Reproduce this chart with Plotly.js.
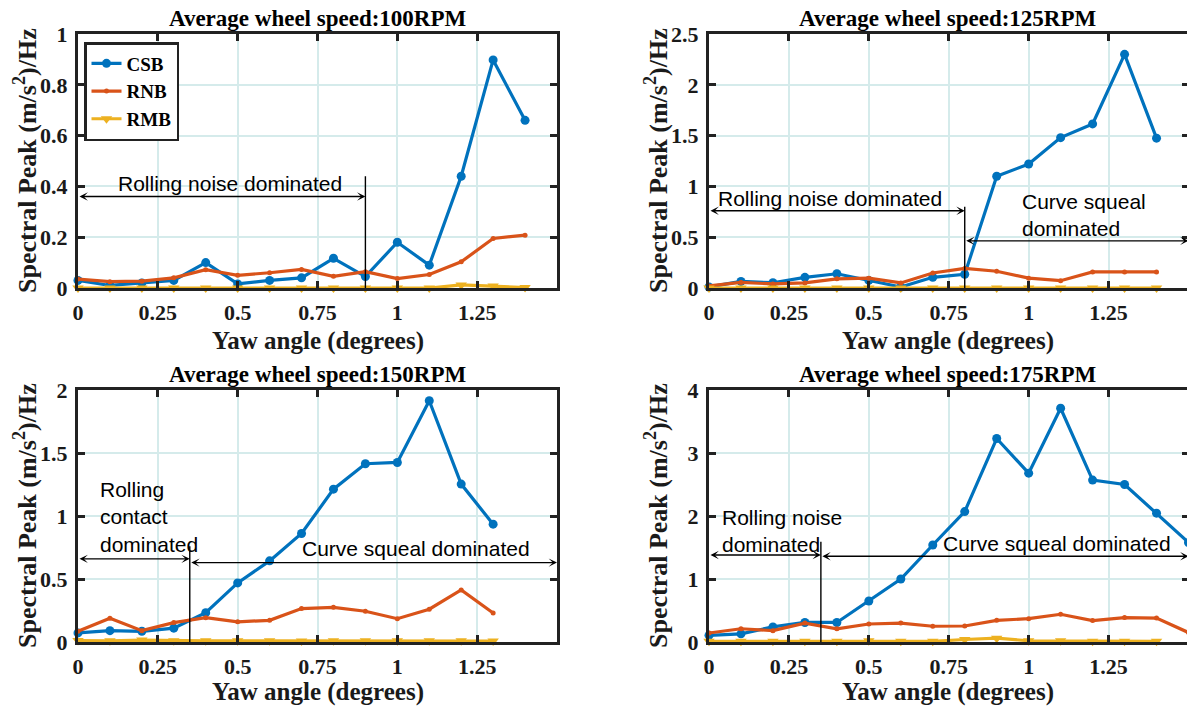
<!DOCTYPE html>
<html>
<head>
<meta charset="utf-8">
<script src="https://cdn.plot.ly/plotly-3.0.1.min.js"></script>
<style>
html,body{margin:0;padding:0;overflow:hidden;background:#fff;}
#chart{width:1192px;height:709px;}
</style>
</head>
<body>
<div id="chart"></div>
<script>
// ---------- data ----------
const yaw14 = [0,0.1,0.2,0.3,0.4,0.5,0.6,0.7,0.8,0.9,1.0,1.1,1.2,1.3,1.4];
const yaw13 = [0,0.1,0.2,0.3,0.4,0.5,0.6,0.7,0.8,0.9,1.0,1.1,1.2,1.3];
const yaw15 = [0,0.1,0.2,0.3,0.4,0.5,0.6,0.7,0.8,0.9,1.0,1.1,1.2,1.3,1.4,1.5];

// 100 RPM
const csb100 = [0.03,0.01,0.02,0.03,0.10,0.016,0.03,0.04,0.117,0.045,0.18,0.09,0.44,0.898,0.66];
const rnb100 = [0.035,0.025,0.027,0.04,0.072,0.05,0.06,0.073,0.046,0.064,0.037,0.053,0.103,0.195,0.208];
const rmb100 = [0,0,0,0,0,0,0,0,0,0,0,0,0.012,0.008,0.002];
// 125 RPM
const csb125 = [0.01,0.065,0.052,0.105,0.14,0.075,0.01,0.105,0.135,1.10,1.22,1.48,1.615,2.30,1.475];
const rnb125 = [0.02,0.055,0.04,0.05,0.09,0.097,0.05,0.148,0.193,0.165,0.097,0.072,0.158,0.158,0.158];
const rmb125 = [0,0,0,0,0,0,0,0,0,0,0,0,0,0,0];
// 150 RPM
const csb150 = [0.072,0.09,0.085,0.11,0.233,0.469,0.644,0.861,1.213,1.415,1.425,1.915,1.253,0.935];
const rnb150 = [0.085,0.188,0.09,0.154,0.193,0.16,0.172,0.265,0.275,0.244,0.185,0.26,0.413,0.23];
const rmb150 = [0.012,0.01,0.015,0.01,0.01,0.01,0.01,0.008,0.01,0.01,0.01,0.01,0.01,0.008];
// 175 RPM
const csb175 = [0.106,0.13,0.24,0.31,0.31,0.65,1.0,1.54,2.07,3.23,2.68,3.71,2.57,2.50,2.045,1.58];
const rnb175 = [0.143,0.21,0.18,0.30,0.21,0.286,0.30,0.25,0.254,0.344,0.37,0.44,0.34,0.387,0.38,0.15];
const rmb175 = [0.01,0.01,0.01,0.01,0.01,0.02,0.01,0.01,0.04,0.06,0.02,0.02,0.01,0.01,0.01];

const seriesNames = ['CSB','RNB','RMB'];
const panelTitles = ['Average wheel speed:100RPM','Average wheel speed:125RPM','Average wheel speed:150RPM','Average wheel speed:175RPM'];
const xTickVals = [0,0.25,0.5,0.75,1,1.25];
const xTickText = ['0','0.25','0.5','0.75','1','1.25'];
const yRanges = [[0,1],[0,2.5],[0,2],[0,4]];
const yDticks = [0.2,0.5,0.5,1];
const xTitleText = 'Yaw angle (degrees)';
const yTitleText = 'Spectral Peak (m/s<sup>2</sup>)/Hz';

// ---------- styling ----------
const C_BLUE = '#0072BD', C_RED = '#D95319', C_YEL = '#EDB120';
const SERIF = 'Liberation Serif';
const SANS = 'Liberation Sans, Arial, sans-serif';
const INK = '#1a1a1a';
const W = 1192, H = 709;

const panels = [
  {x: yaw14, csb: csb100, rnb: rnb100, rmbx: yaw14, rmb: rmb100},
  {x: yaw14, csb: csb125, rnb: rnb125, rmbx: yaw14, rmb: rmb125},
  {x: yaw13, csb: csb150, rnb: rnb150, rmbx: yaw13, rmb: rmb150},
  {x: yaw15, csb: csb175, rnb: rnb175, rmbx: yaw14, rmb: rmb175}
];

// pixel boxes of the four plot areas (xt = x-title centre offset below the axis)
const boxes = [
  {l:78, r:557, t:34, b:288, xt:53},
  {l:709, r:1188.5, t:34, b:288, xt:53},
  {l:78, r:557, t:390, b:642, xt:50},
  {l:709, r:1188.5, t:390, b:642, xt:50}
];

const traces = [];
panels.forEach((p, i) => {
  const xa = i === 0 ? 'x' : 'x' + (i + 1);
  const ya = i === 0 ? 'y' : 'y' + (i + 1);
  traces.push({x: p.x, y: p.csb, xaxis: xa, yaxis: ya, name: seriesNames[0], legendgroup: 'csb',
    showlegend: i === 0, mode: 'lines+markers', cliponaxis: false,
    line: {color: C_BLUE, width: 3.2}, marker: {symbol: 'circle', size: 9, color: C_BLUE}});
  traces.push({x: p.x, y: p.rnb, xaxis: xa, yaxis: ya, name: seriesNames[1], legendgroup: 'rnb',
    showlegend: i === 0, mode: 'lines+markers', cliponaxis: false,
    line: {color: C_RED, width: 3.2}, marker: {symbol: 'circle', size: 5, color: C_RED}});
  traces.push({x: p.rmbx, y: p.rmb, xaxis: xa, yaxis: ya, name: seriesNames[2], legendgroup: 'rmb',
    showlegend: i === 0, mode: 'lines+markers', cliponaxis: false,
    line: {color: C_YEL, width: 3.2}, marker: {symbol: 'triangle-down', size: 10, color: C_YEL}});
});

const layout = {
  width: W, height: H,
  margin: {l: 0, r: 0, t: 0, b: 0, pad: 0},
  paper_bgcolor: '#fff', plot_bgcolor: '#fff',
  showlegend: true,
  legend: {x: 84 / W, y: 1 - 42 / H, xanchor: 'left', yanchor: 'top',
    bgcolor: '#fff', bordercolor: '#222', borderwidth: 2.5,
    font: {family: SERIF, size: 19, color: '#000', weight: 'bold'},
    itemwidth: 30, tracegroupgap: 0},
  annotations: [], shapes: []
};

boxes.forEach((b, i) => {
  const sx = i === 0 ? '' : String(i + 1);
  const xa = {
    domain: [b.l / W, b.r / W], range: [0, 1.5], anchor: 'y' + sx,
    tickvals: xTickVals, ticktext: xTickText,
    showline: true, linecolor: '#222', linewidth: 3, mirror: 'ticks',
    ticks: 'inside', ticklen: 7, tickwidth: 3, tickcolor: '#222',
    showgrid: true, gridcolor: '#d5ebeb', gridwidth: 2, zeroline: false,
    tickfont: {family: SERIF, size: 22, color: INK, weight: 'bold'},
    ticklabelstandoff: 3, fixedrange: true
  };
  const ya = {
    domain: [1 - b.b / H, 1 - b.t / H], range: yRanges[i], dtick: yDticks[i], tick0: 0,
    anchor: 'x' + sx,
    showline: true, linecolor: '#222', linewidth: 3, mirror: 'ticks',
    ticks: 'inside', ticklen: 7, tickwidth: 3, tickcolor: '#222',
    showgrid: true, gridcolor: '#d5ebeb', gridwidth: 2, zeroline: false,
    tickfont: {family: SERIF, size: 22, color: INK, weight: 'bold'},
    ticklabelstandoff: 3, fixedrange: true
  };
  layout['xaxis' + sx] = xa;
  layout['yaxis' + sx] = ya;

  const cx = ((b.l + Math.min(b.r, 1186)) / 2) / W;
  // subplot title
  layout.annotations.push({text: panelTitles[i], xref: 'paper', yref: 'paper',
    x: cx, y: 1 - (b.t - 15) / H, xanchor: 'center', yanchor: 'middle',
    showarrow: false, font: {family: SERIF, size: 23, color: '#000', weight: 'bold'}});
  // x axis title
  layout.annotations.push({text: xTitleText, xref: 'paper', yref: 'paper',
    x: cx, y: 1 - (b.b + b.xt) / H, xanchor: 'center', yanchor: 'middle',
    showarrow: false, font: {family: SERIF, size: 25, color: INK, weight: 'bold'}});
  // y axis title
  layout.annotations.push({text: yTitleText, xref: 'paper', yref: 'paper',
    x: (b.l - 53) / W, y: 1 - ((b.t + b.b) / 2) / H, xanchor: 'center', yanchor: 'middle',
    textangle: -90, showarrow: false,
    font: {family: SERIF, size: 26, color: INK, weight: 'bold'}});
});

// region annotations (data coordinates)
const regionTexts = [
  {p: 0, text: 'Rolling noise dominated', x: 0.476, y: 0.413, anchor: 'center'},
  {p: 1, text: 'Rolling noise dominated', x: 0.38, y: 0.877, anchor: 'center'},
  {p: 1, text: 'Curve squeal<br>dominated', x: 0.974, y: 0.72, anchor: 'left'},
  {p: 2, text: 'Rolling<br>contact<br>dominated', x: 0.062, y: 0.99, anchor: 'left'},
  {p: 2, text: 'Curve squeal dominated', x: 1.06, y: 0.74, anchor: 'center'},
  {p: 3, text: 'Rolling noise<br>dominated', x: 0.035, y: 1.76, anchor: 'left'},
  {p: 3, text: 'Curve squeal dominated', x: 1.09, y: 1.56, anchor: 'center'}
];
const regionArrows = [
  {p: 0, x0: 0, x1: 0.9, y: 0.36},
  {p: 1, x0: 0, x1: 0.8, y: 0.76},
  {p: 1, x0: 0.8, x1: 1.5, y: 0.464},
  {p: 2, x0: 0, x1: 0.35, y: 0.66},
  {p: 2, x0: 0.35, x1: 1.5, y: 0.63},
  {p: 3, x0: 0, x1: 0.35, y: 1.38},
  {p: 3, x0: 0.35, x1: 1.5, y: 1.36}
];
const regionLines = [
  {p: 0, x: 0.9, y1: 0.44},
  {p: 1, x: 0.8, y1: 0.80},
  {p: 2, x: 0.35, y1: 0.76},
  {p: 3, x: 0.35, y1: 1.59}
];
const ax = p => (p === 0 ? 'x' : 'x' + (p + 1));
const ay = p => (p === 0 ? 'y' : 'y' + (p + 1));

regionTexts.forEach(t => {
  layout.annotations.push({text: t.text, xref: ax(t.p), yref: ay(t.p), x: t.x, y: t.y,
    xanchor: t.anchor, yanchor: 'middle', align: 'left', showarrow: false,
    font: {family: SANS, size: 21, color: '#000'}});
});
regionArrows.forEach(a => {
  layout.annotations.push({text: '', xref: ax(a.p), yref: ay(a.p), axref: ax(a.p), ayref: ay(a.p),
    x: a.x1, y: a.y, ax: a.x0, ay: a.y, showarrow: true, arrowside: 'end+start',
    arrowhead: 3, arrowsize: 1, arrowwidth: 1.4, arrowcolor: '#000', standoff: 0, startstandoff: 0});
});
regionLines.forEach(l => {
  layout.shapes.push({type: 'line', xref: ax(l.p), yref: ay(l.p), x0: l.x, x1: l.x, y0: 0, y1: l.y1,
    line: {color: '#000', width: 1.4}});
});

Plotly.newPlot('chart', traces, layout, {staticPlot: true, displayModeBar: false});
</script>
</body>
</html>
